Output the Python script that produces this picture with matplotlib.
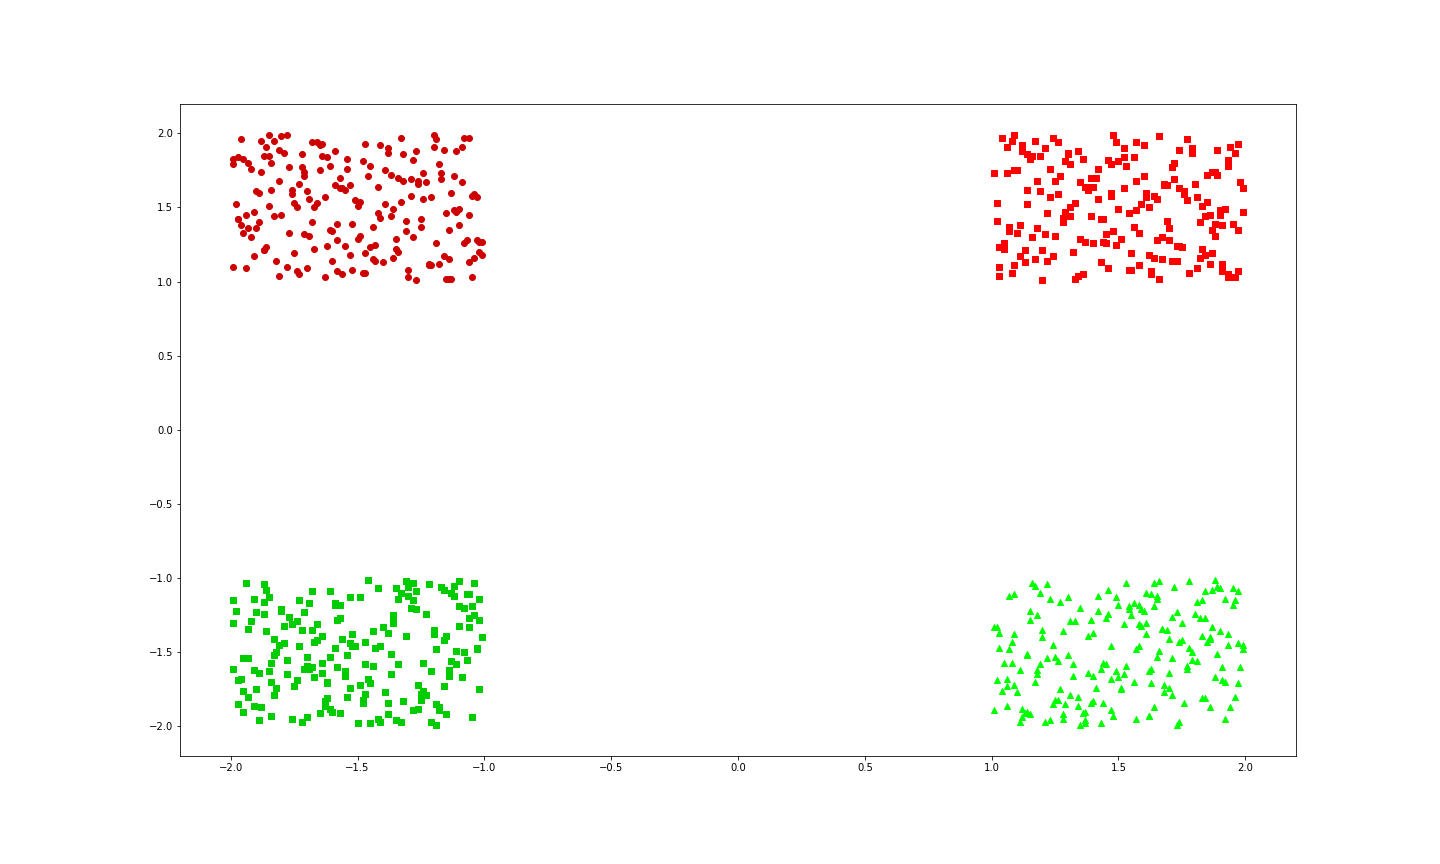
import matplotlib
matplotlib.use("Agg")
import matplotlib.pyplot as plt

# The reference holds about 1000 points per block, too many to read one by one.
# Only the block extents were read from it; the 200 points per block below are
# hand-typed stand-ins spread over those extents, not the original positions.
tl_x = [-1.37, -1.82, -1.05, -1.64, -1.19, -1.91, -1.48, -1.73, -1.26, -1.58,
        -1.11, -1.69, -1.94, -1.33, -1.77, -1.02, -1.55, -1.88, -1.41, -1.16,
        -1.63, -1.29, -1.85, -1.07, -1.50, -1.96, -1.22, -1.71, -1.44, -1.13,
        -1.80, -1.38, -1.67, -1.09, -1.52, -1.99, -1.24, -1.75, -1.46, -1.31,
        -1.06, -1.89, -1.57, -1.14, -1.72, -1.35, -1.98, -1.61, -1.27, -1.83,
        -1.43, -1.18, -1.90, -1.65, -1.03, -1.78, -1.32, -1.54, -1.87, -1.20,
        -1.70, -1.47, -1.12, -1.95, -1.39, -1.81, -1.60, -1.25, -1.08, -1.66,
        -1.53, -1.97, -1.34, -1.76, -1.15, -1.42, -1.86, -1.01, -1.59, -1.28,
        -1.92, -1.45, -1.68, -1.21, -1.84, -1.10, -1.56, -1.79, -1.36, -1.04,
        -1.74, -1.23, -1.49, -1.93, -1.62, -1.17, -1.85, -1.30, -1.51, -1.97,
        -1.40, -1.87, -1.15, -1.58, -1.26, -1.71, -1.09, -1.63, -1.34, -1.88,
        -1.19, -1.52, -1.76, -1.03, -1.95, -1.44, -1.67, -1.12, -1.81, -1.38,
        -1.60, -1.29, -1.91, -1.47, -1.06, -1.73, -1.35, -1.99, -1.22, -1.56,
        -1.84, -1.14, -1.65, -1.31, -1.78, -1.02, -1.49, -1.93, -1.27, -1.70,
        -1.11, -1.57, -1.86, -1.42, -1.18, -1.64, -1.96, -1.33, -1.75, -1.08,
        -1.47, -1.20, -1.69, -1.92, -1.54, -1.37, -1.05, -1.81, -1.28, -1.61,
        -1.90, -1.43, -1.16, -1.74, -1.39, -1.83, -1.58, -1.24, -1.68, -1.01,
        -1.32, -1.77, -1.53, -1.10, -1.87, -1.45, -1.99, -1.21, -1.66, -1.13,
        -1.55, -1.04, -1.80, -1.36, -1.71, -1.25, -1.62, -1.94, -1.48, -1.17,
        -1.72, -1.97, -1.30, -1.59, -1.14, -1.89, -1.41, -1.06, -1.85, -1.50]
tl_y = [1.72, 1.14, 1.58, 1.93, 1.26, 1.47, 1.81, 1.05, 1.66, 1.39,
        1.88, 1.31, 1.09, 1.54, 1.77, 1.20, 1.62, 1.95, 1.43, 1.17,
        1.03, 1.69, 1.85, 1.28, 1.51, 1.96, 1.12, 1.74, 1.37, 1.60,
        1.45, 1.90, 1.22, 1.67, 1.08, 1.83, 1.56, 1.19, 1.71, 1.34,
        1.97, 1.40, 1.63, 1.15, 1.86, 1.29, 1.52, 1.78, 1.01, 1.44,
        1.25, 1.79, 1.36, 1.92, 1.57, 1.10, 1.68, 1.83, 1.21, 1.99,
        1.61, 1.06, 1.48, 1.33, 1.75, 1.89, 1.14, 1.42, 1.97, 1.53,
        1.18, 1.84, 1.70, 1.59, 1.02, 1.46, 1.91, 1.27, 1.65, 1.30,
        1.76, 1.23, 1.94, 1.11, 1.62, 1.38, 1.05, 1.87, 1.49, 1.16,
        1.50, 1.67, 1.31, 1.80, 1.24, 1.73, 1.99, 1.08, 1.55, 1.42,
        1.13, 1.85, 1.46, 1.07, 1.68, 1.32, 1.91, 1.57, 1.20, 1.74,
        1.96, 1.39, 1.62, 1.28, 1.83, 1.15, 1.50, 1.71, 1.04, 1.87,
        1.34, 1.58, 1.17, 1.93, 1.45, 1.66, 1.22, 1.79, 1.11, 1.63,
        1.80, 1.02, 1.75, 1.41, 1.99, 1.27, 1.54, 1.36, 1.88, 1.09,
        1.47, 1.70, 1.23, 1.64, 1.12, 1.85, 1.38, 1.97, 1.53, 1.26,
        1.19, 1.91, 1.56, 1.30, 1.76, 1.44, 1.03, 1.68, 1.82, 1.35,
        1.61, 1.14, 1.89, 1.07, 1.52, 1.95, 1.28, 1.73, 1.40, 1.18,
        1.86, 1.33, 1.65, 1.49, 1.21, 1.78, 1.10, 1.57, 1.94, 1.02,
        1.24, 1.59, 1.98, 1.16, 1.71, 1.37, 1.84, 1.45, 1.06, 1.69,
        1.77, 1.42, 1.03, 1.88, 1.35, 1.60, 1.92, 1.13, 1.51, 1.29]

tr_x = [1.58, 1.23, 1.91, 1.47, 1.06, 1.74, 1.35, 1.82, 1.19, 1.63,
        1.14, 1.87, 1.52, 1.29, 1.96, 1.41, 1.70, 1.08, 1.65, 1.33,
        1.79, 1.02, 1.44, 1.68, 1.17, 1.93, 1.26, 1.55, 1.88, 1.11,
        1.36, 1.61, 1.97, 1.20, 1.53, 1.84, 1.09, 1.72, 1.45, 1.30,
        1.90, 1.15, 1.67, 1.38, 1.81, 1.04, 1.59, 1.24, 1.76, 1.49,
        1.27, 1.73, 1.12, 1.95, 1.42, 1.66, 1.31, 1.86, 1.03, 1.57,
        1.64, 1.18, 1.83, 1.50, 1.07, 1.99, 1.37, 1.21, 1.78, 1.44,
        1.09, 1.56, 1.34, 1.89, 1.62, 1.16, 1.92, 1.47, 1.25, 1.71,
        1.85, 1.40, 1.69, 1.13, 1.77, 1.28, 1.54, 1.01, 1.96, 1.32,
        1.46, 1.93, 1.22, 1.60, 1.35, 1.81, 1.10, 1.67, 1.52, 1.87,
        1.03, 1.74, 1.48, 1.19, 1.91, 1.57, 1.26, 1.83, 1.39, 1.65,
        1.98, 1.31, 1.66, 1.05, 1.72, 1.43, 1.88, 1.14, 1.59, 1.20,
        1.51, 1.85, 1.11, 1.77, 1.28, 1.94, 1.40, 1.63, 1.07, 1.36,
        1.17, 1.62, 1.93, 1.46, 1.80, 1.21, 1.55, 1.99, 1.34, 1.73,
        1.69, 1.08, 1.38, 1.56, 1.13, 1.87, 1.02, 1.48, 1.71, 1.25,
        1.42, 1.97, 1.75, 1.24, 1.64, 1.33, 1.79, 1.16, 1.90, 1.58,
        1.84, 1.12, 1.50, 1.91, 1.06, 1.68, 1.45, 1.29, 1.61, 1.03,
        1.23, 1.70, 1.15, 1.86, 1.39, 1.52, 1.97, 1.74, 1.10, 1.47,
        1.95, 1.37, 1.60, 1.31, 1.82, 1.18, 1.66, 1.43, 1.05, 1.89,
        1.30, 1.54, 1.88, 1.09, 1.49, 1.76, 1.22, 1.57, 1.93, 1.14]
tr_y = [1.33, 1.76, 1.12, 1.58, 1.91, 1.24, 1.67, 1.40, 1.85, 1.07,
        1.62, 1.19, 1.84, 1.47, 1.03, 1.70, 1.36, 1.95, 1.28, 1.53,
        1.90, 1.41, 1.27, 1.66, 1.15, 1.82, 1.59, 1.08, 1.74, 1.38,
        1.05, 1.57, 1.93, 1.21, 1.78, 1.44, 1.11, 1.69, 1.32, 1.86,
        1.48, 1.83, 1.30, 1.64, 1.09, 1.97, 1.52, 1.17, 1.61, 1.25,
        1.71, 1.14, 1.88, 1.39, 1.56, 1.02, 1.79, 1.45, 1.23, 1.94,
        1.16, 1.68, 1.51, 1.81, 1.34, 1.63, 1.27, 1.90, 1.06, 1.42,
        1.99, 1.37, 1.04, 1.72, 1.18, 1.85, 1.49, 1.60, 1.31, 1.77,
        1.54, 1.26, 1.65, 1.13, 1.96, 1.40, 1.08, 1.73, 1.87, 1.20,
        1.82, 1.03, 1.46, 1.92, 1.29, 1.57, 1.75, 1.15, 1.63, 1.35,
        1.10, 1.89, 1.34, 1.61, 1.07, 1.48, 1.94, 1.22, 1.70, 1.56,
        1.67, 1.44, 1.98, 1.26, 1.80, 1.13, 1.39, 1.86, 1.52, 1.01,
        1.29, 1.72, 1.17, 1.55, 1.43, 1.91, 1.64, 1.05, 1.37, 1.83,
        1.95, 1.50, 1.78, 1.09, 1.66, 1.32, 1.19, 1.47, 1.88, 1.24,
        1.41, 1.06, 1.62, 1.84, 1.21, 1.74, 1.53, 1.99, 1.14, 1.68,
        1.76, 1.35, 1.23, 1.97, 1.58, 1.02, 1.87, 1.30, 1.45, 1.11,
        1.18, 1.92, 1.49, 1.38, 1.73, 1.65, 1.26, 1.81, 1.60, 1.04,
        1.57, 1.28, 1.85, 1.12, 1.44, 1.90, 1.07, 1.63, 1.33, 1.79,
        1.03, 1.64, 1.71, 1.50, 1.16, 1.36, 1.98, 1.42, 1.22, 1.89,
        1.87, 1.46, 1.31, 1.75, 1.94, 1.59, 1.14, 1.68, 1.05, 1.52]

bl_x = [-1.81, -1.26, -1.53, -1.09, -1.74, -1.38, -1.95, -1.17, -1.62, -1.44,
        -1.05, -1.68, -1.32, -1.87, -1.21, -1.56, -1.90, -1.13, -1.47, -1.79,
        -1.39, -1.94, -1.11, -1.63, -1.28, -1.85, -1.02, -1.70, -1.54, -1.16,
        -1.72, -1.45, -1.98, -1.34, -1.60, -1.07, -1.51, -1.83, -1.22, -1.67,
        -1.14, -1.59, -1.76, -1.40, -1.93, -1.25, -1.68, -1.01, -1.88, -1.36,
        -1.57, -1.03, -1.30, -1.82, -1.15, -1.71, -1.46, -1.99, -1.64, -1.19,
        -1.91, -1.48, -1.24, -1.66, -1.37, -1.10, -1.84, -1.53, -1.29, -1.75,
        -1.08, -1.77, -1.61, -1.12, -1.95, -1.43, -1.20, -1.69, -1.35, -1.86,
        -1.63, -1.31, -1.89, -1.50, -1.04, -1.78, -1.57, -1.26, -1.92, -1.41,
        -1.27, -1.84, -1.16, -1.73, -1.48, -1.99, -1.33, -1.61, -1.06, -1.55,
        -1.96, -1.12, -1.65, -1.38, -1.80, -1.23, -1.47, -1.91, -1.58, -1.02,
        -1.35, -1.70, -1.06, -1.54, -1.19, -1.87, -1.64, -1.10, -1.42, -1.83,
        -1.18, -1.93, -1.49, -1.27, -1.71, -1.05, -1.36, -1.82, -1.59, -1.24,
        -1.66, -1.41, -1.85, -1.13, -1.97, -1.52, -1.28, -1.74, -1.03, -1.90,
        -1.44, -1.08, -1.62, -1.79, -1.33, -1.16, -1.95, -1.57, -1.21, -1.68,
        -1.89, -1.55, -1.20, -1.46, -1.02, -1.83, -1.69, -1.38, -1.76, -1.11,
        -1.30, -1.73, -1.97, -1.15, -1.58, -1.42, -1.07, -1.64, -1.25, -1.87,
        -1.53, -1.19, -1.36, -1.91, -1.67, -1.28, -1.80, -1.14, -1.49, -1.72,
        -1.06, -1.61, -1.84, -1.23, -1.45, -1.99, -1.52, -1.31, -1.93, -1.37,
        -1.78, -1.47, -1.10, -1.59, -1.86, -1.34, -1.18, -1.70, -1.04, -1.62]
bl_y = [-1.45, -1.88, -1.13, -1.67, -1.29, -1.92, -1.54, -1.06, -1.71, -1.36,
        -1.19, -1.60, -1.83, -1.24, -1.97, -1.41, -1.75, -1.10, -1.58, -1.32,
        -1.77, -1.03, -1.49, -1.86, -1.15, -1.63, -1.28, -1.94, -1.52, -1.08,
        -1.35, -1.71, -1.22, -1.58, -1.90, -1.11, -1.46, -1.79, -1.04, -1.67,
        -1.62, -1.17, -1.95, -1.33, -1.54, -1.82, -1.09, -1.40, -1.87, -1.26,
        -1.91, -1.48, -1.06, -1.74, -1.39, -1.23, -1.68, -1.15, -1.57, -1.99,
        -1.14, -1.82, -1.57, -1.31, -1.65, -1.02, -1.93, -1.44, -1.20, -1.73,
        -1.50, -1.26, -1.88, -1.12, -1.76, -1.47, -1.35, -1.61, -1.96, -1.08,
        -1.83, -1.39, -1.64, -1.98, -1.03, -1.55, -1.18, -1.72, -1.29, -1.46,
        -1.21, -1.70, -1.42, -1.15, -1.84, -1.30, -1.97, -1.53, -1.11, -1.66,
        -1.68, -1.05, -1.91, -1.37, -1.22, -1.79, -1.43, -1.86, -1.60, -1.14,
        -1.07, -1.53, -1.27, -1.80, -1.48, -1.16, -1.64, -1.32, -1.95, -1.41,
        -1.89, -1.34, -1.72, -1.09, -1.61, -1.94, -1.25, -1.50, -1.18, -1.76,
        -1.42, -1.97, -1.13, -1.56, -1.85, -1.38, -1.03, -1.69, -1.47, -1.23,
        -1.59, -1.20, -1.81, -1.44, -1.10, -1.73, -1.90, -1.27, -1.63, -1.35,
        -1.96, -1.63, -1.38, -1.01, -1.75, -1.52, -1.17, -1.84, -1.31, -1.58,
        -1.12, -1.46, -1.69, -1.92, -1.28, -1.07, -1.55, -1.39, -1.78, -1.04,
        -1.74, -1.85, -1.30, -1.62, -1.43, -1.89, -1.21, -1.66, -1.13, -1.97,
        -1.33, -1.09, -1.57, -1.24, -1.98, -1.61, -1.46, -1.02, -1.80, -1.51,
        -1.65, -1.78, -1.19, -1.47, -1.36, -1.14, -1.87, -1.59, -1.25, -1.70]

br_x = [1.12, 1.67, 1.43, 1.90, 1.28, 1.75, 1.06, 1.54, 1.81, 1.39,
        1.96, 1.31, 1.58, 1.15, 1.73, 1.47, 1.22, 1.89, 1.64, 1.03,
        1.49, 1.84, 1.26, 1.61, 1.08, 1.92, 1.37, 1.70, 1.17, 1.55,
        1.78, 1.13, 1.95, 1.40, 1.66, 1.24, 1.83, 1.51, 1.09, 1.32,
        1.04, 1.59, 1.71, 1.35, 1.87, 1.18, 1.46, 1.99, 1.62, 1.27,
        1.53, 1.88, 1.20, 1.76, 1.42, 1.10, 1.65, 1.33, 1.91, 1.57,
        1.30, 1.06, 1.84, 1.49, 1.97, 1.61, 1.14, 1.38, 1.72, 1.85,
        1.67, 1.45, 1.11, 1.93, 1.25, 1.80, 1.56, 1.02, 1.43, 1.19,
        1.91, 1.23, 1.68, 1.52, 1.07, 1.36, 1.79, 1.64, 1.28, 1.96,
        1.35, 1.74, 1.47, 1.18, 1.89, 1.53, 1.01, 1.86, 1.60, 1.41,
        1.21, 1.98, 1.63, 1.09, 1.44, 1.71, 1.27, 1.57, 1.83, 1.14,
        1.86, 1.40, 1.05, 1.78, 1.31, 1.92, 1.65, 1.12, 1.50, 1.69,
        1.58, 1.17, 1.90, 1.37, 1.62, 1.03, 1.84, 1.46, 1.25, 1.73,
        1.09, 1.66, 1.29, 1.54, 1.81, 1.48, 1.19, 1.95, 1.38, 1.77,
        1.44, 1.82, 1.16, 1.70, 1.23, 1.59, 1.97, 1.34, 1.61, 1.06,
        1.75, 1.28, 1.52, 1.99, 1.14, 1.87, 1.42, 1.68, 1.01, 1.30,
        1.39, 1.93, 1.64, 1.26, 1.56, 1.11, 1.74, 1.20, 1.88, 1.47,
        1.97, 1.51, 1.08, 1.83, 1.40, 1.65, 1.32, 1.79, 1.15, 1.62,
        1.63, 1.15, 1.37, 1.45, 1.94, 1.22, 1.58, 1.07, 1.71, 1.86,
        1.24, 1.70, 1.89, 1.02, 1.77, 1.34, 1.50, 1.63, 1.92, 1.18]
br_y = [-1.88, -1.34, -1.61, -1.07, -1.95, -1.42, -1.73, -1.19, -1.56, -1.28,
        -1.15, -1.79, -1.46, -1.92, -1.23, -1.68, -1.04, -1.51, -1.87, -1.37,
        -1.63, -1.09, -1.82, -1.30, -1.57, -1.14, -1.96, -1.41, -1.70, -1.25,
        -1.47, -1.91, -1.18, -1.66, -1.02, -1.85, -1.39, -1.74, -1.11, -1.58,
        -1.76, -1.21, -1.54, -1.99, -1.33, -1.62, -1.08, -1.45, -1.93, -1.16,
        -1.03, -1.67, -1.40, -1.84, -1.12, -1.77, -1.53, -1.29, -1.60, -1.95,
        -1.52, -1.86, -1.27, -1.13, -1.71, -1.38, -1.90, -1.64, -1.06, -1.43,
        -1.34, -1.58, -1.97, -1.45, -1.82, -1.24, -1.17, -1.69, -1.98, -1.10,
        -1.69, -1.14, -1.72, -1.31, -1.48, -1.91, -1.55, -1.03, -1.36, -1.80,
        -1.20, -1.43, -1.89, -1.65, -1.06, -1.59, -1.33, -1.87, -1.22, -1.74,
        -1.97, -1.60, -1.11, -1.38, -1.84, -1.26, -1.75, -1.48, -1.15, -1.52,
        -1.41, -1.83, -1.57, -1.02, -1.29, -1.70, -1.12, -1.94, -1.67, -1.35,
        -1.18, -1.05, -1.36, -1.90, -1.63, -1.47, -1.81, -1.24, -1.53, -1.99,
        -1.72, -1.49, -1.85, -1.21, -1.16, -1.93, -1.58, -1.07, -1.39, -1.61,
        -1.57, -1.27, -1.03, -1.74, -1.96, -1.32, -1.44, -1.86, -1.10, -1.68,
        -1.30, -1.92, -1.65, -1.48, -1.51, -1.08, -1.22, -1.77, -1.89, -1.13,
        -1.84, -1.38, -1.19, -1.56, -1.70, -1.62, -1.97, -1.35, -1.01, -1.46,
        -1.09, -1.75, -1.43, -1.81, -1.37, -1.14, -1.66, -1.50, -1.28, -1.93,
        -1.61, -1.22, -1.98, -1.27, -1.87, -1.54, -1.31, -1.12, -1.79, -1.40,
        -1.45, -1.64, -1.06, -1.33, -1.59, -1.80, -1.18, -1.71, -1.95, -1.25]

fig = plt.figure(figsize=(20, 12), dpi=72)
ax = fig.add_subplot(111)
fig.subplots_adjust(left=0.125, right=0.9, top=0.88, bottom=0.125)

ax.scatter(tl_x, tl_y, s=36, marker='o', color='#cc0000')
ax.scatter(tr_x, tr_y, s=36, marker='s', color='#ff0000')
ax.scatter(bl_x, bl_y, s=36, marker='s', color='#00cc00')
ax.scatter(br_x, br_y, s=36, marker='^', color='#00ff00')

ax.set_xlim(-2.2, 2.2)
ax.set_ylim(-2.2, 2.2)

fig.savefig("out.png", dpi=72)
